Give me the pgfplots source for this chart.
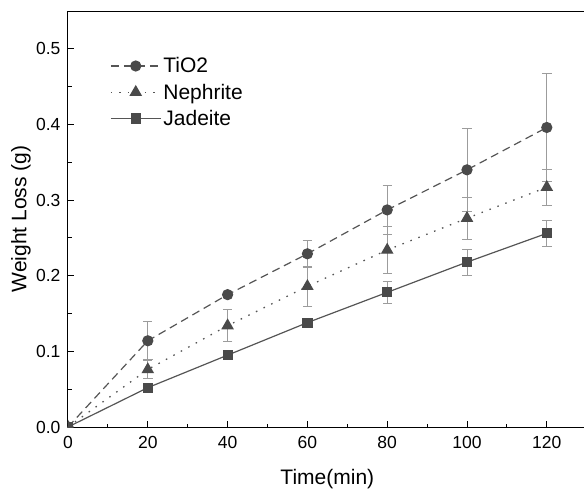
\documentclass[border=0pt]{standalone}
\usepackage{fontspec}
\setmainfont{Liberation Sans}
\usepackage{pgfplots}
\pgfplotsset{compat=1.18}
\definecolor{markc}{HTML}{4A4A4A}
\definecolor{linec}{HTML}{555555}
\definecolor{errc}{HTML}{9C9C9C}
\begin{document}
\begin{tikzpicture}
\begin{axis}[
  scale only axis,
  width=518.7pt, height=416pt,
  xmin=0, xmax=130, ymin=0, ymax=0.55,
  xtick={0,20,...,120}, ytick={0,0.1,...,0.5},
  minor x tick num=1, minor y tick num=1,
  xtick pos=bottom, ytick pos=left,
  tick align=inside,
  major tick length=6pt, minor tick length=3.5pt,
  every tick/.style={black, line width=0.9pt},
  axis line style={line width=1pt},
  /pgf/number format/assume math mode=true,
  yticklabel style={/pgf/number format/fixed, /pgf/number format/fixed zerofill, /pgf/number format/precision=1, xshift=-4pt},
  xticklabel style={yshift=-5.5pt},
  tick label style={font=\fontsize{17.5}{20}\selectfont},
  label style={font=\fontsize{21}{24}\selectfont},
  xlabel={Time(min)},
  ylabel={Weight Loss (g)},
  xlabel style={at={(axis description cs:0.5,0)}, anchor=north, yshift=-39pt},
  ylabel style={at={(axis description cs:0,0.5)}, anchor=center, yshift=47pt},
  clip marker paths=true,
  legend cell align=left,
  legend style={draw=none, fill=none, at={(axis description cs:0.075,0.898)}, anchor=north west,
    font=\fontsize{21}{24}\selectfont, row sep=5.5pt},
  legend image code/.code={\draw[mark repeat=2, mark phase=2, #1] plot coordinates {(0pt,0pt) (25pt,0pt) (50pt,0pt)};},
  error bars/error bar style={errc, line width=0.9pt, solid},
  error bars/error mark options={errc, rotate=90, mark size=4.7pt, line width=0.9pt, solid},
]
\addplot[linec, line width=1.2pt, dash pattern=on 8pt off 5pt,
  mark=*, mark size=5pt, mark options={solid, fill=markc, draw=markc},
  error bars/.cd, y dir=both, y explicit]
  table[x=x, y=y, y error=e] {
x y e
0 0 0
20 0.114 0.025
40 0.175 0.003
60 0.229 0.018
80 0.287 0.033
100 0.340 0.055
120 0.396 0.072
};
\addlegendentry{TiO2}
\addplot[linec, line width=1.3pt, dash pattern=on 1.5pt off 7pt,
  mark=triangle*, mark size=6pt, mark options={solid, fill=markc, draw=markc},
  error bars/.cd, y dir=both, y explicit]
  table[x=x, y=y, y error=e] {
x y e
0 0 0
20 0.076 0.012
40 0.134 0.021
60 0.186 0.026
80 0.234 0.031
100 0.276 0.028
120 0.317 0.024
};
\addlegendentry{Nephrite}
\addplot[linec, line width=1.2pt, solid,
  mark=square*, mark size=4.5pt, mark options={solid, fill=markc, draw=markc},
  error bars/.cd, y dir=both, y explicit]
  table[x=x, y=y, y error=e] {
x y e
0 0 0
20 0.052 0.003
40 0.095 0.003
60 0.138 0.006
80 0.178 0.015
100 0.218 0.017
120 0.256 0.017
};
\addlegendentry{Jadeite}
\end{axis}
\pgfresetboundingbox
\path[use as bounding box] (current axis.south west) ++(-68pt,-64pt) rectangle ++(584pt,491pt);
\end{tikzpicture}
\end{document}
